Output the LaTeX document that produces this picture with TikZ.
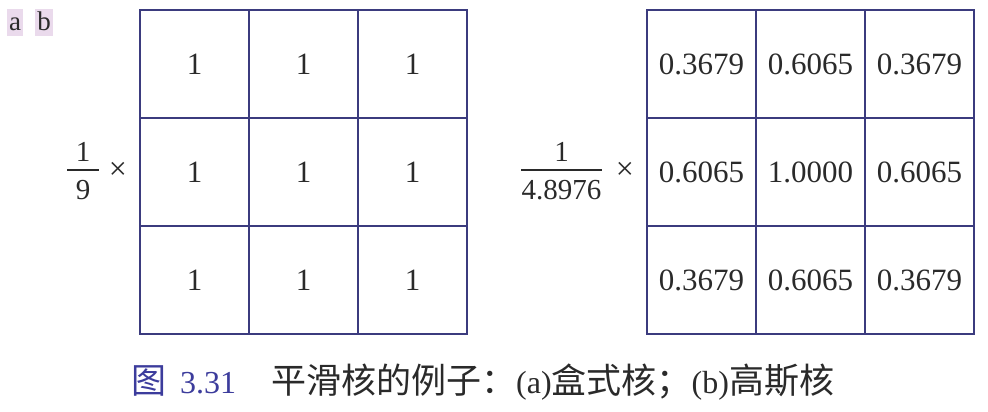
\documentclass[tikz,border=0pt]{standalone}
\usepackage{fontspec}
\setmainfont{Liberation Serif}
\newfontfamily\cjk{Noto Sans CJK SC}
\definecolor{gridc}{HTML}{3B3B7E}
\definecolor{capblue}{HTML}{3C3C9C}
\definecolor{tagbg}{HTML}{EADAEC}
\definecolor{txt}{HTML}{2A2A2A}
\begin{document}
\begin{tikzpicture}[x=1pt,y=-1pt,
  cell/.style={draw=gridc,line width=2pt,minimum width=109pt,minimum height=108pt,inner sep=0pt,
    font=\fontsize{31}{36}\selectfont,text=txt},
  frac/.style={font=\fontsize{29}{34}\selectfont,text=txt,inner sep=0pt},
  tag/.style={fill=tagbg,font=\fontsize{27}{30}\selectfont,text=txt,inner xsep=2pt,inner ysep=0pt,
    text height=21pt,text depth=6pt},
  captext/.style={font=\fontsize{32}{40}\selectfont,inner sep=0pt,anchor=base west}]
\useasboundingbox (0,0) rectangle (988,412);
% tags
\node[tag] (ta) at (15,23) {a};
\node[tag] (tb) at (44,23) {b};
% left grid
\foreach \r/\y in {1/64,2/172,3/280}{
  \foreach \c/\x in {1/194.5,2/303.5,3/412.5}{
    \node[cell] (L\r\c) at (\x,\y) {1};
  }
}
% right grid
\node[cell] (R11) at (701.5,64) {0.3679};
\node[cell] (R12) at (810.5,64) {0.6065};
\node[cell] (R13) at (919.5,64) {0.3679};
\node[cell] (R21) at (701.5,172) {0.6065};
\node[cell] (R22) at (810.5,172) {1.0000};
\node[cell] (R23) at (919.5,172) {0.6065};
\node[cell] (R31) at (701.5,280) {0.3679};
\node[cell] (R32) at (810.5,280) {0.6065};
\node[cell] (R33) at (919.5,280) {0.3679};
% left fraction
\node[frac] (ln) at (83,152) {1};
\node[frac] (ld) at (83,190) {9};
\draw[txt,line width=1.2pt] (67,170) -- (99,170);
\node[frac,font=\fontsize{32}{34}\selectfont] (lx) at (118,171) {×};
% right fraction
\node[frac] (rn) at (561.5,152) {1};
\node[frac] (rd) at (561.5,190) {4.8976};
\draw[txt,line width=1.2pt] (521,170) -- (602,170);
\node[frac,font=\fontsize{32}{34}\selectfont] (rx) at (625,171) {×};
% caption
\node[captext,text=capblue] (c1) at (131,393) {{\fontsize{35}{40}\selectfont\cjk 图}\hspace{14pt}3.31};
\node[captext,text=txt] (c2) at (271,393) {{\fontsize{35}{40}\selectfont\cjk 平滑核的例子：}(a){\fontsize{35}{40}\selectfont\cjk 盒式核；}(b){\fontsize{35}{40}\selectfont\cjk 高斯核}};
\end{tikzpicture}
\end{document}
